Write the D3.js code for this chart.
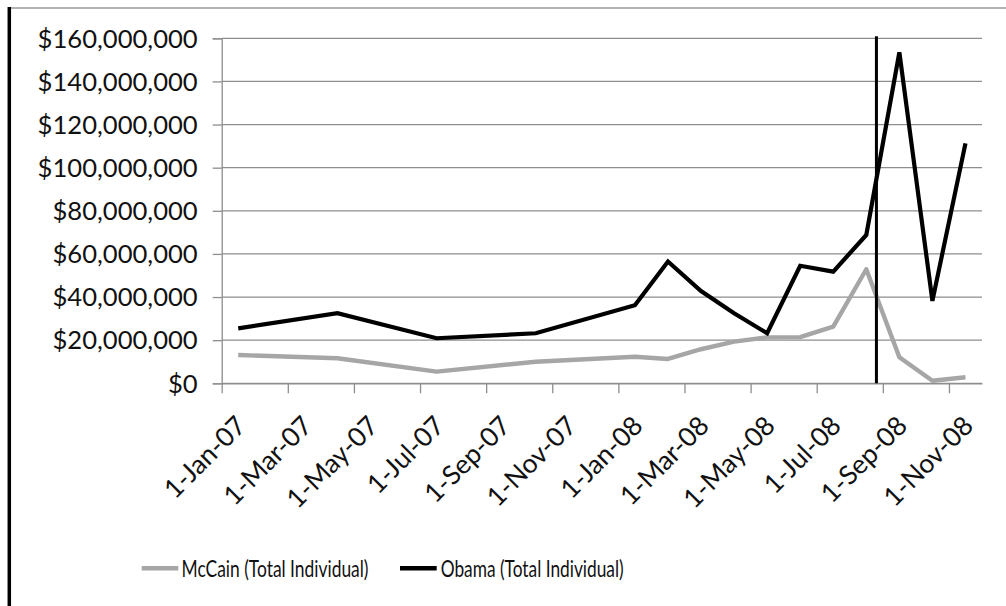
<!DOCTYPE html>
<html>
<head>
<meta charset="utf-8">
<script src="https://cdn.jsdelivr.net/npm/d3@7"></script>
<style>
  html, body { margin: 0; padding: 0; background: #fff; }
  svg { display: block; }
  text { font-family: Lato, "Open Sans", sans-serif; fill: #111; }
</style>
</head>
<body>
<svg id="chart" width="1006" height="606"></svg>
<script>
// Monthly individual contributions (USD), quarterly in 2007 and monthly in 2008
const periods = ["2007-01", "2007-04", "2007-07", "2007-10",
                 "2008-01", "2008-02", "2008-03", "2008-04", "2008-05", "2008-06",
                 "2008-07", "2008-08", "2008-09", "2008-10", "2008-11"];
const mccainTotal = [13.1e6, 11.6e6, 5.4e6, 10.0e6,
                     12.3e6, 11.3e6, 15.8e6, 19.3e6, 21.3e6, 21.4e6,
                     26.3e6, 52.9e6, 12.1e6, 1.2e6, 2.8e6];
const obamaTotal  = [25.5e6, 32.5e6, 20.9e6, 23.2e6,
                     36.2e6, 56.5e6, 42.8e6, 32.5e6, 23.2e6, 54.5e6,
                     51.8e6, 68.8e6, 153.5e6, 38.2e6, 111.3e6];

const seriesNames = ["McCain (Total Individual)", "Obama (Total Individual)"];
const xTickLabels = ["1-Jan-07", "1-Mar-07", "1-May-07", "1-Jul-07", "1-Sep-07", "1-Nov-07",
                     "1-Jan-08", "1-Mar-08", "1-May-08", "1-Jul-08", "1-Sep-08", "1-Nov-08"];
const yTickValues = [0, 20e6, 40e6, 60e6, 80e6, 100e6, 120e6, 140e6, 160e6];
const markerDate = "2008-08-26";

// Month index counted from Jan 2007 (fractional days allowed)
const startYear = 2007;
function monthIndex(str) {
  const p = str.split("-").map(Number);
  const m = (p[0] - startYear) * 12 + (p[1] - 1);
  if (p.length < 3) return m;
  const days = new Date(p[0], p[1], 0).getDate();
  return m + (p[2] - 1) / days;
}

const svg = d3.select("#chart");

// Outer frame
svg.append("line").attr("x1", 8).attr("x2", 1006).attr("y1", 8).attr("y2", 8)
  .attr("stroke", "#9a9a9a").attr("stroke-width", 1.5);
svg.append("line").attr("x1", 9.3).attr("x2", 9.3).attr("y1", 7).attr("y2", 606)
  .attr("stroke", "#000").attr("stroke-width", 3.5);

const plot = { left: 221.7, right: 982, top: 38.3, bottom: 383.3 };
const monthCount = 23;

const x = d3.scaleLinear().domain([0, monthCount]).range([plot.left, plot.right]);
const y = d3.scaleLinear().domain([0, 160e6]).range([plot.bottom, plot.top]);

const gridColor = "#8e8e8e";

// Horizontal gridlines
svg.append("g")
  .selectAll("line")
  .data(yTickValues)
  .join("line")
  .attr("x1", plot.left).attr("x2", plot.right)
  .attr("y1", d => y(d)).attr("y2", d => y(d))
  .attr("stroke", gridColor).attr("stroke-width", 1.3);

// Y axis
const yAxis = svg.append("g")
  .attr("transform", `translate(${plot.left},0)`)
  .call(d3.axisLeft(y).tickValues(yTickValues).tickSize(9).tickPadding(15)
    .tickFormat(d3.format("$,")));
yAxis.select(".domain").attr("stroke", gridColor).attr("stroke-width", 1.3);
yAxis.selectAll(".tick line").attr("stroke", gridColor).attr("stroke-width", 1.3);
yAxis.selectAll(".tick text").attr("font-size", 25.6).attr("fill", "#111")
  .attr("font-family", "Lato, sans-serif").attr("dy", "0.34em");

// X axis: tick marks at every second month boundary
const xAxis = svg.append("g")
  .attr("transform", `translate(0,${plot.bottom})`)
  .call(d3.axisBottom(x).tickValues(d3.range(0, monthCount, 2)).tickSize(10)
    .tickSizeOuter(0).tickFormat(""));
xAxis.select(".domain").attr("stroke", gridColor).attr("stroke-width", 1.3);
xAxis.selectAll(".tick line").attr("stroke", gridColor).attr("stroke-width", 1.3);

// X labels centred on their months, rotated
const xLabelAxis = svg.append("g")
  .attr("transform", `translate(0,${plot.bottom})`)
  .call(d3.axisBottom(x).tickValues(d3.range(0.5, monthCount, 2)).tickSize(0)
    .tickFormat((d, i) => xTickLabels[i]));
xLabelAxis.select(".domain").remove();
xLabelAxis.selectAll(".tick text")
  .attr("font-size", 26.5).attr("fill", "#111").attr("font-family", "Lato, sans-serif")
  .attr("x", 0).attr("y", 0).attr("dy", 0)
  .attr("text-anchor", "end")
  .attr("transform", "translate(9,44) rotate(-45)");

// Series lines
const points = periods.map(monthIndex);
const line = d3.line()
  .x((d, i) => x(points[i] + 0.5))
  .y(d => y(d));

svg.append("path").datum(mccainTotal)
  .attr("d", line).attr("fill", "none")
  .attr("stroke", "#a6a6a6").attr("stroke-width", 4.4)
  .attr("stroke-linejoin", "round");
svg.append("path").datum(obamaTotal)
  .attr("d", line).attr("fill", "none")
  .attr("stroke", "#000").attr("stroke-width", 4.2)
  .attr("stroke-linejoin", "miter");

// Vertical marker line
const mx = x(monthIndex(markerDate));
svg.append("line")
  .attr("x1", mx).attr("x2", mx).attr("y1", y(161e6)).attr("y2", y(0))
  .attr("stroke", "#000").attr("stroke-width", 3);

// Legend
const legend = [
  { name: seriesNames[0], color: "#a6a6a6", x0: 141.7, x1: 178.3, tx: 181.5, width: 187 },
  { name: seriesNames[1], color: "#000",    x0: 400,   x1: 436.7, tx: 440.7, width: 183 }
];
const lg = svg.append("g");
legend.forEach(d => {
  lg.append("line").attr("x1", d.x0).attr("x2", d.x1).attr("y1", 568.3).attr("y2", 568.3)
    .attr("stroke", d.color).attr("stroke-width", 4.5);
  lg.append("text").attr("x", d.tx).attr("y", 576.5)
    .attr("font-size", 23).attr("fill", "#111")
    .attr("textLength", d.width).attr("lengthAdjust", "spacingAndGlyphs")
    .text(d.name);
});
</script>
</body>
</html>
